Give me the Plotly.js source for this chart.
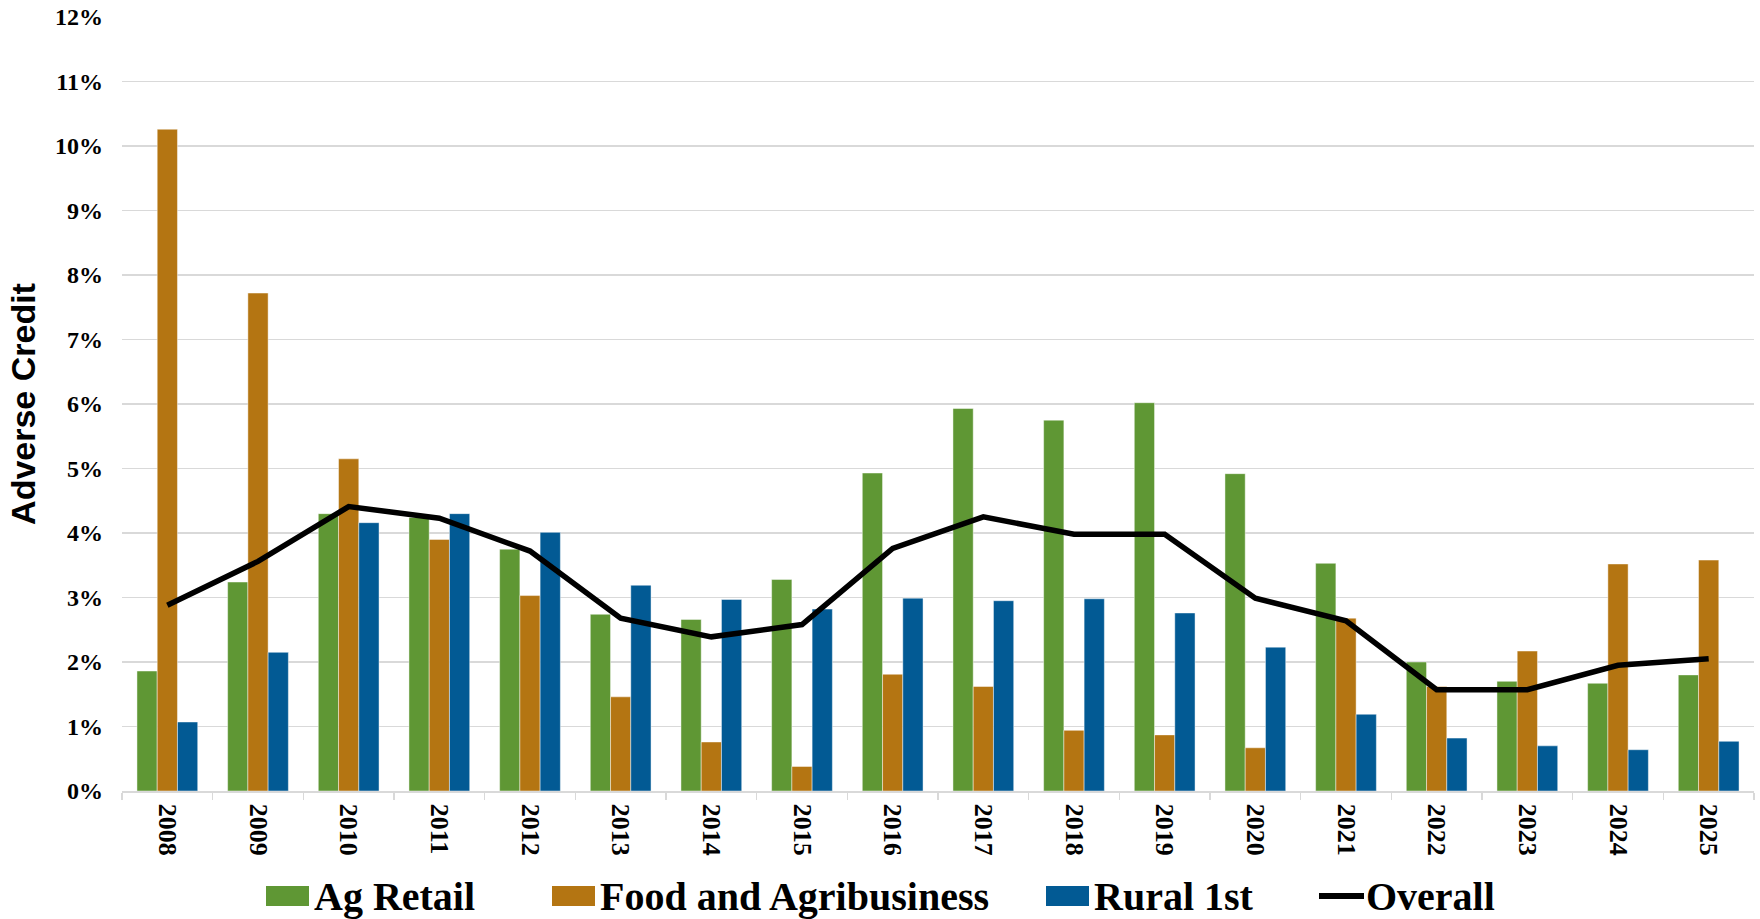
<!DOCTYPE html>
<html>
<head>
<meta charset="utf-8">
<script src="https://cdn.plot.ly/plotly-3.0.1.min.js"></script>
<style>
  html, body { margin: 0; padding: 0; background: #fff; }
  #chart { width: 1760px; height: 919px; }
</style>
</head>
<body>
<div id="chart"></div>
<script>
// ---- Data (in %) ----
const years = ["2008","2009","2010","2011","2012","2013","2014","2015","2016","2017","2018","2019","2020","2021","2022","2023","2024","2025"];
const seriesNames = ["Ag Retail", "Food and Agribusiness", "Rural 1st", "Overall"];
const agRetail = [1.86, 3.24, 4.30, 4.24, 3.75, 2.74, 2.66, 3.28, 4.93, 5.93, 5.75, 6.02, 4.92, 3.53, 2.00, 1.70, 1.67, 1.80];
const foodAgri = [10.26, 7.72, 5.15, 3.90, 3.03, 1.46, 0.76, 0.38, 1.81, 1.62, 0.94, 0.87, 0.67, 2.68, 1.62, 2.17, 3.52, 3.58];
const rural1st = [1.07, 2.15, 4.16, 4.30, 4.01, 3.19, 2.97, 2.82, 2.99, 2.95, 2.98, 2.76, 2.23, 1.19, 0.82, 0.70, 0.64, 0.77];
const overall  = [2.88, 3.56, 4.41, 4.23, 3.72, 2.68, 2.39, 2.58, 3.76, 4.25, 3.98, 3.98, 2.99, 2.64, 1.57, 1.57, 1.95, 2.05];
const yTickVals = [0,1,2,3,4,5,6,7,8,9,10,11,12];
const yTickText = yTickVals.map(v => v + "%");

// ---- Styles ----
const colors = ["#5F9734", "#B47512", "#025A94", "#000000"];
const serif = "'Liberation Serif', 'Times New Roman', serif";
const sans = "'Liberation Sans', Arial, sans-serif";

const barLine = { width: 1, color: "rgba(255,255,255,0.45)" };
const barData = [agRetail, foodAgri, rural1st];
const traces = barData.map((vals, i) => ({
  type: "bar",
  name: seriesNames[i],
  x: years,
  y: vals,
  marker: { color: colors[i], line: barLine },
  showlegend: false,
  hoverinfo: "x+y+name"
}));
traces.push({
  type: "scatter",
  mode: "lines",
  name: seriesNames[3],
  x: years,
  y: overall,
  line: { color: colors[3], width: 5.5 },
  showlegend: false
});

// ---- Layout ----
const L = 122, R = 6, T = 17, B = 128, W = 1760, H = 919;
const pw = W - L - R, ph = H - T - B;
const px = x => (x - L) / pw;          // page px -> paper x
const py = y => (H - B - y) / ph;      // page px -> paper y

const legendY = 896;
const legendItems = [
  { sw: [266, 309], tx: 312, kind: "rect" },
  { sw: [552, 595], tx: 598, kind: "rect" },
  { sw: [1046, 1089], tx: 1092, kind: "rect" },
  { sw: [1319, 1364], tx: 1364, kind: "line" }
];
const shapes = [];
const annotations = [];
legendItems.forEach((it, i) => {
  if (it.kind === "rect") {
    shapes.push({ type: "rect", xref: "paper", yref: "paper",
      x0: px(it.sw[0]), x1: px(it.sw[1]), y0: py(legendY + 10), y1: py(legendY - 10),
      fillcolor: colors[i], line: { width: 0 } });
  } else {
    shapes.push({ type: "line", xref: "paper", yref: "paper",
      x0: px(it.sw[0]), x1: px(it.sw[1]), y0: py(legendY), y1: py(legendY),
      line: { color: colors[i], width: 6 } });
  }
  annotations.push({ xref: "paper", yref: "paper", x: px(it.tx), y: py(legendY),
    xanchor: "left", yanchor: "middle", showarrow: false, text: seriesNames[i],
    font: { family: serif, size: 40, color: "#000", weight: 700 } });
});

const layout = {
  width: W, height: H,
  margin: { l: L, r: R, t: T, b: B },
  paper_bgcolor: "#fff", plot_bgcolor: "#fff",
  barmode: "group", bargap: 0.33, bargroupgap: 0,
  showlegend: false,
  xaxis: {
    type: "category",
    tickangle: 90,
    ticks: "outside", ticklen: 7, tickwidth: 1.5, tickcolor: "#d9d9d9",
    tickson: "boundaries",
    showline: true, linecolor: "#d9d9d9", linewidth: 1.5,
    showgrid: false, zeroline: false,
    tickfont: { family: serif, size: 26, color: "#000", weight: 700 },
    ticklabelstandoff: 6,
    fixedrange: true
  },
  yaxis: {
    range: [0, 12],
    tickvals: yTickVals, ticktext: yTickText,
    showgrid: true, gridcolor: "#d9d9d9", gridwidth: 1.5,
    zeroline: false, showline: false, ticks: "",
    tickfont: { family: serif, size: 24, color: "#000", weight: 700 },
    ticklabelstandoff: 18,
    title: { text: "Adverse Credit", font: { family: sans, size: 34, color: "#000", weight: 700 }, standoff: 9 },
    fixedrange: true
  },
  shapes: shapes,
  annotations: annotations
};

Plotly.newPlot("chart", traces, layout, { displayModeBar: false, staticPlot: true });
</script>
</body>
</html>
